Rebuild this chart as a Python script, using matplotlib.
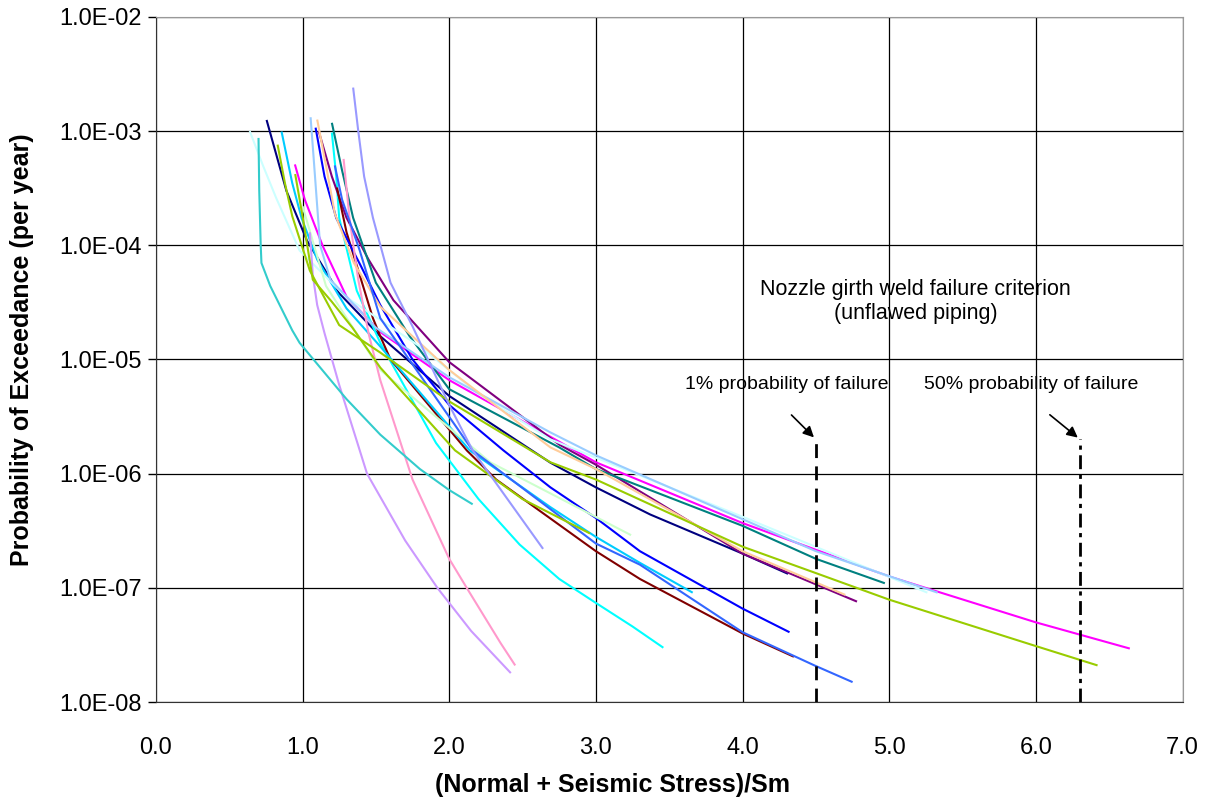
import matplotlib
matplotlib.use("Agg")
import matplotlib.pyplot as plt

plt.rcParams['font.family'] = ['Liberation Sans', 'DejaVu Sans']

# axis ticks
x_ticks = [0, 1, 2, 3, 4, 5, 6, 7]
x_tick_labels = ["0.0", "1.0", "2.0", "3.0", "4.0", "5.0", "6.0", "7.0"]
y_ticks = [1e-8, 1e-7, 1e-6, 1e-5, 1e-4, 1e-3, 1e-2]
y_tick_labels = ["1.0E-08", "1.0E-07", "1.0E-06", "1.0E-05", "1.0E-04", "1.0E-03", "1.0E-02"]

# hazard curves
navy_x = [0.755, 0.89, 1.03, 1.25, 1.53, 2.0, 2.69, 3.0, 3.37, 4.0, 4.31]
navy_y = [1.25e-3, 3.0e-4, 1.1e-4, 3.8e-5, 1.6e-5, 4.8e-6, 1.25e-6, 7.6e-7, 4.4e-7, 2.0e-7, 1.33e-7]

magenta_x = [0.948, 1.016, 1.14, 1.30, 1.53, 2.0, 3.0, 4.0, 5.0, 6.0, 6.64]
magenta_y = [5.1e-4, 2.5e-4, 9.7e-5, 3.55e-5, 1.74e-5, 6.6e-6, 1.26e-6, 3.7e-7, 1.26e-7, 5.0e-8, 2.95e-8]

cyan_x = [1.20, 1.23, 1.25, 1.37, 1.53, 1.91, 2.2, 2.48, 2.75, 3.0, 3.25, 3.46]
cyan_y = [9.7e-4, 4.0e-4, 1.74e-4, 4.0e-5, 1.4e-5, 1.86e-6, 6.0e-7, 2.4e-7, 1.2e-7, 7.4e-8, 4.6e-8, 3.0e-8]

purple_x = [1.11, 1.20, 1.30, 1.45, 1.62, 2.0, 2.75, 3.0, 4.0, 4.78]
purple_y = [1.0e-3, 4.0e-4, 1.74e-4, 7.5e-5, 3.3e-5, 9.5e-6, 1.8e-6, 1.2e-6, 2.0e-7, 7.6e-8]

maroon_x = [1.235, 1.30, 1.48, 1.53, 1.60, 2.12, 2.32, 3.0, 3.3, 4.0, 4.35]
maroon_y = [3.2e-4, 1.3e-4, 2.3e-5, 1.6e-5, 1.0e-5, 1.6e-6, 8.9e-7, 2.1e-7, 1.2e-7, 4.0e-8, 2.5e-8]

teal_x = [1.20, 1.27, 1.345, 1.50, 1.73, 2.0, 2.75, 3.0, 4.0, 4.5, 4.97]
teal_y = [1.18e-3, 4.5e-4, 1.74e-4, 4.7e-5, 1.6e-5, 5.5e-6, 1.7e-6, 1.1e-6, 3.5e-7, 1.8e-7, 1.1e-7]

blue_x = [1.089, 1.15, 1.23, 1.40, 1.53, 1.75, 2.0, 2.37, 2.69, 3.0, 3.3, 4.0, 4.32]
blue_y = [1.07e-3, 4.0e-4, 1.73e-4, 6.5e-5, 3.0e-5, 1.0e-5, 4.0e-6, 1.6e-6, 7.6e-7, 4.1e-7, 2.1e-7, 6.6e-8, 4.1e-8]

skyblue_x = [0.857, 0.93, 0.993, 1.1, 1.3, 1.53, 2.0, 2.14, 2.69, 3.0, 3.3, 3.66]
skyblue_y = [9.9e-4, 3.5e-4, 1.74e-4, 7.5e-5, 2.8e-5, 1.3e-5, 2.6e-6, 1.6e-6, 5.1e-7, 2.8e-7, 1.66e-7, 9.1e-8]

paleturq_x = [0.64, 0.73, 0.82, 0.98, 1.3, 1.8, 2.2, 2.69, 4.0, 5.26]
paleturq_y = [1.0e-3, 5.0e-4, 2.6e-4, 9.0e-5, 3.5e-5, 1.3e-5, 5.0e-6, 2.0e-6, 4.2e-7, 9.1e-8]

palegreen_x = [1.0, 1.16, 1.53, 2.28, 3.24]
palegreen_y = [2.2e-4, 4.4e-5, 8.1e-6, 1.26e-6, 2.9e-7]

lightblue_x = [1.055, 1.075, 1.10, 1.12, 1.19, 1.5, 2.0, 2.69, 3.0, 4.0, 4.5, 5.33]
lightblue_y = [1.32e-3, 6.0e-4, 2.2e-4, 1.0e-4, 5.0e-5, 1.9e-5, 7.0e-6, 2.3e-6, 1.45e-6, 4.0e-7, 2.1e-7, 9.1e-8]

pink_x = [1.28, 1.32, 1.38, 1.45, 1.53, 1.75, 2.0, 2.12, 2.35, 2.45]
pink_y = [5.7e-4, 1.74e-4, 5.0e-5, 1.7e-5, 6.6e-6, 8.9e-7, 1.8e-7, 1.0e-7, 3.3e-8, 2.1e-8]

lilac_x = [1.05, 1.07, 1.10, 1.15, 1.25, 1.44, 1.70, 1.92, 2.15, 2.42]
lilac_y = [1.3e-4, 5.5e-5, 3.0e-5, 1.7e-5, 6.0e-6, 1.0e-6, 2.6e-7, 1.0e-7, 4.2e-8, 1.8e-8]

peach_x = [1.10, 1.16, 1.22, 1.35, 1.53, 2.0, 2.69, 3.0, 4.0, 4.70]
peach_y = [1.26e-3, 5.0e-4, 1.9e-4, 7.0e-5, 2.9e-5, 8.1e-6, 1.7e-6, 1.1e-6, 2.1e-7, 8.7e-8]

cornflower_x = [1.22, 1.27, 1.39, 1.53, 2.16, 3.0, 3.3, 4.0, 4.49, 4.75]
cornflower_y = [5.0e-4, 2.5e-4, 9.0e-5, 2.3e-5, 1.6e-6, 2.45e-7, 1.6e-7, 4.1e-8, 2.1e-8, 1.5e-8]

turq_x = [0.70, 0.705, 0.715, 0.72, 0.78, 0.93, 0.98, 1.3, 1.53, 1.80, 2.0, 2.16]
turq_y = [8.7e-4, 3.0e-4, 1.0e-4, 7.0e-5, 4.4e-5, 1.8e-5, 1.4e-5, 4.5e-6, 2.2e-6, 1.1e-6, 7.2e-7, 5.4e-7]

green_x = [0.83, 0.88, 0.93, 1.05, 1.25, 1.53, 2.0, 2.69, 3.0, 4.0, 4.5, 5.0, 6.0, 6.42]
green_y = [7.6e-4, 3.5e-4, 1.8e-4, 6.0e-5, 2.0e-5, 1.15e-5, 4.3e-6, 1.26e-6, 8.9e-7, 2.3e-7, 1.35e-7, 7.9e-8, 3.1e-8, 2.1e-8]

green2_x = [0.95, 1.0, 1.07, 1.2, 1.34, 1.53, 2.04, 2.5, 2.96]
green2_y = [4.2e-4, 1.8e-4, 5.0e-5, 3.2e-5, 1.9e-5, 8.5e-6, 1.6e-6, 6.0e-7, 3.0e-7]

periwinkle_x = [1.345, 1.38, 1.42, 1.48, 1.60, 1.75, 2.0, 2.16, 2.64]
periwinkle_y = [2.4e-3, 1.0e-3, 4.0e-4, 1.74e-4, 4.7e-5, 1.95e-5, 4.0e-6, 1.6e-6, 2.2e-7]

# failure criteria
crit_1pct = 4.5
crit_50pct = 6.3
crit_top = 2.0e-6

curves = [
    (navy_x, navy_y, "#000080"),
    (magenta_x, magenta_y, "#FF00FF"),
    (cyan_x, cyan_y, "#00FFFF"),
    (purple_x, purple_y, "#800080"),
    (maroon_x, maroon_y, "#800000"),
    (teal_x, teal_y, "#008080"),
    (blue_x, blue_y, "#0000FF"),
    (skyblue_x, skyblue_y, "#00CCFF"),
    (paleturq_x, paleturq_y, "#CCFFFF"),
    (palegreen_x, palegreen_y, "#CCFFCC"),
    (lightblue_x, lightblue_y, "#99CCFF"),
    (pink_x, pink_y, "#FF99CC"),
    (lilac_x, lilac_y, "#CC99FF"),
    (peach_x, peach_y, "#FFCC99"),
    (cornflower_x, cornflower_y, "#3366FF"),
    (turq_x, turq_y, "#33CCCC"),
    (green_x, green_y, "#99CC00"),
    (green2_x, green2_y, "#99CC00"),
    (periwinkle_x, periwinkle_y, "#9999FF"),
]

fig = plt.figure(figsize=(12.08, 7.98), dpi=100)
ax = fig.add_axes([0.129, 0.120, 0.850, 0.859])

for xs, ys, c in curves:
    ax.plot(xs, ys, color=c, lw=1.5, solid_capstyle='butt', solid_joinstyle='round')

ax.plot([crit_1pct, crit_1pct], [1e-8, crit_top], color='black', lw=2, ls=(0, (5, 3)))
ax.plot([crit_50pct, crit_50pct], [1e-8, crit_top], color='black', lw=2, ls=(0, (5, 2, 1.5, 2)))

ax.set_yscale('log')
ax.set_xlim(0, 7)
ax.set_ylim(1e-8, 1e-2)
ax.set_xticks(x_ticks)
ax.set_xticklabels(x_tick_labels, fontsize=17)
ax.set_yticks(y_ticks)
ax.set_yticklabels(y_tick_labels, fontsize=17)
ax.minorticks_off()
ax.tick_params(axis='y', direction='out', length=6, width=1, pad=4)
ax.tick_params(axis='x', direction='out', length=0, pad=25)
ax.grid(True, which='major', color='black', lw=0.9)
ax.set_axisbelow(True)
for s in ['top', 'right']:
    ax.spines[s].set_color('#999999')
for s in ['left', 'bottom']:
    ax.spines[s].set_color('#333333')

ax.set_xlabel("(Normal + Seismic Stress)/Sm", fontsize=18, fontweight='bold', va='center')
ax.xaxis.set_label_coords(0.445, -0.121)
ax.set_ylabel("Probability of Exceedance (per year)", fontsize=18, fontweight='bold', va='center')
ax.yaxis.set_label_coords(-0.1305, 0.515)

ax.text(5.18, 3.2e-5, "Nozzle girth weld failure criterion\n(unflawed piping)",
        ha='center', va='center', fontsize=15.5, linespacing=1.2)
ax.text(4.3, 6.1e-6, "1% probability of failure", ha='center', va='center', fontsize=14)
ax.text(5.97, 6.1e-6, "50% probability of failure", ha='center', va='center', fontsize=14)

ax.annotate("", xy=(crit_1pct, crit_top), xytext=(4.32, 3.4e-6),
            arrowprops=dict(arrowstyle='-|>', color='black', lw=1.2, mutation_scale=16))
ax.annotate("", xy=(crit_50pct, crit_top), xytext=(6.08, 3.4e-6),
            arrowprops=dict(arrowstyle='-|>', color='black', lw=1.2, mutation_scale=16))

fig.savefig("out.png", dpi=100)
